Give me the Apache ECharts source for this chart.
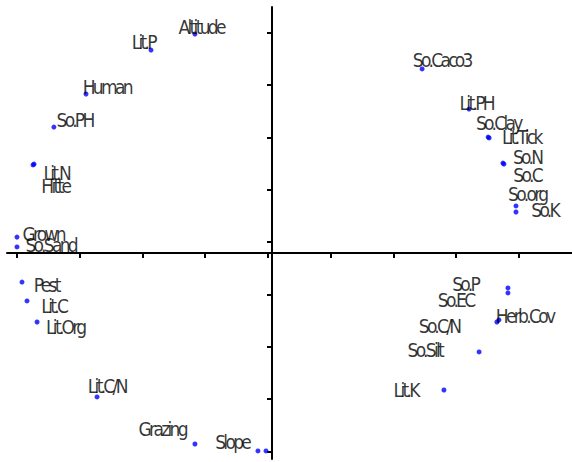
<!DOCTYPE html>
<html>
<head>
<meta charset="utf-8">
<script src="https://cdn.jsdelivr.net/npm/echarts@6/dist/echarts.min.js"></script>
<style>
html, body { margin: 0; padding: 0; background: #ffffff; }
#chart { width: 572px; height: 462px; }
#chart text { letter-spacing: -2.7px; }
</style>
</head>
<body>
<div id="chart"></div>
<script>
// ---- data ----
const NAMES = [
  'Altitude', 'Lit.P', 'Human', 'So.PH', 'Lit.N', 'Hitte', 'Grown', 'So.Sand',
  'Pest', 'Lit.C', 'Lit.Org', 'Lit.C/N', 'Grazing', 'Slope', '',
  'So.Caco3', 'Lit.PH', 'So.Clay', 'Lit.Tick', 'So.N', 'So.C', 'So.org', 'So.K',
  'So.P', 'So.EC', 'Herb.Cov', 'So.C/N', 'So.Silt', 'Lit.K'
];
const X_VALUES = [
  -0.307, -0.482, -0.741, -0.869, -0.952, -0.948, -1.016, -1.016,
  -0.996, -0.976, -0.936, -0.697, -0.307, -0.056, -0.024,
  0.598, 0.785, 0.861, 0.865, 0.920, 0.924, 0.972, 0.972,
  0.940, 0.940, 0.896, 0.904, 0.825, 0.685
];
const Y_VALUES = [
  1.047, 0.970, 0.760, 0.602, 0.421, 0.425, 0.076, 0.029,
  -0.139, -0.229, -0.330, -0.688, -0.913, -0.946, -0.946,
  0.880, 0.688, 0.554, 0.550, 0.430, 0.425, 0.225, 0.196,
  -0.167, -0.191, -0.330, -0.320, -0.473, -0.655
];
const X_TICKS = [-1.016, -0.766, -0.516, -0.266, -0.016, 0.234, 0.484, 0.734, 0.984];
const Y_TICKS = [1.052, 0.802, 0.552, 0.302, 0.052, -0.198, -0.448, -0.698, -0.948];

// ---- layout: label offsets (text centre relative to point, px) ----
const LABEL_OFFSETS = [
  [7.5, -6.5], [-6.5, -8], [22, -7.5], [22, -7], [24.5, 8.5], [22.5, 21.5], [27.5, -3], [35, -2],
  [25.5, 3], [28, 5], [29.5, 5], [11, -10.5], [-31.5, -15], [-24.5, -8.5], [0, 0],
  [21, -9], [8.5, -6.5], [11.5, -14.5], [33.5, -0.5], [25.5, -6], [24.5, 11], [12.5, -12], [30, -2],
  [-41.5, -3.5], [-51, 7], [29, -6.5], [-58.5, 6.5], [-53, -1.5], [-37, 0]
];

const points = NAMES.map((n, i) => ({
  name: n,
  value: [X_VALUES[i], Y_VALUES[i]],
  label: {
    show: n !== '',
    position: 'inside',
    offset: [LABEL_OFFSETS[i][0] - 1.3, LABEL_OFFSETS[i][1]]
  }
}));

const chart = echarts.init(document.getElementById('chart'), null, { renderer: 'svg' });
const axisCommon = {
  type: 'value',
  axisLine: { show: true, onZero: true, lineStyle: { color: '#000', width: 2 } },
  axisTick: { show: true, inside: false, length: 5, lineStyle: { color: '#000', width: 2 } },
  axisLabel: { show: false },
  splitLine: { show: false }
};
chart.setOption({
  animation: false,
  backgroundColor: '#ffffff',
  grid: { left: 7, right: 0, top: 7, bottom: 3, containLabel: false, outerBoundsMode: 'none' },
  xAxis: Object.assign({}, axisCommon, {
    min: -1.0558, max: 1.1952,
    axisTick: Object.assign({}, axisCommon.axisTick, { customValues: X_TICKS })
  }),
  yAxis: Object.assign({}, axisCommon, {
    min: -0.9847, max: 1.1759,
    axisTick: Object.assign({}, axisCommon.axisTick, { customValues: Y_TICKS })
  }),
  series: [{
    type: 'scatter',
    symbol: 'circle',
    symbolSize: 5,
    itemStyle: { color: '#0000ff' },
    label: {
      color: '#000',
      fontFamily: "'Liberation Sans Narrow', 'Arial Narrow', 'DejaVu Sans Condensed', sans-serif",
      fontSize: 19,
      formatter: p => p.name
    },
    data: points
  }]
});
</script>
</body>
</html>
